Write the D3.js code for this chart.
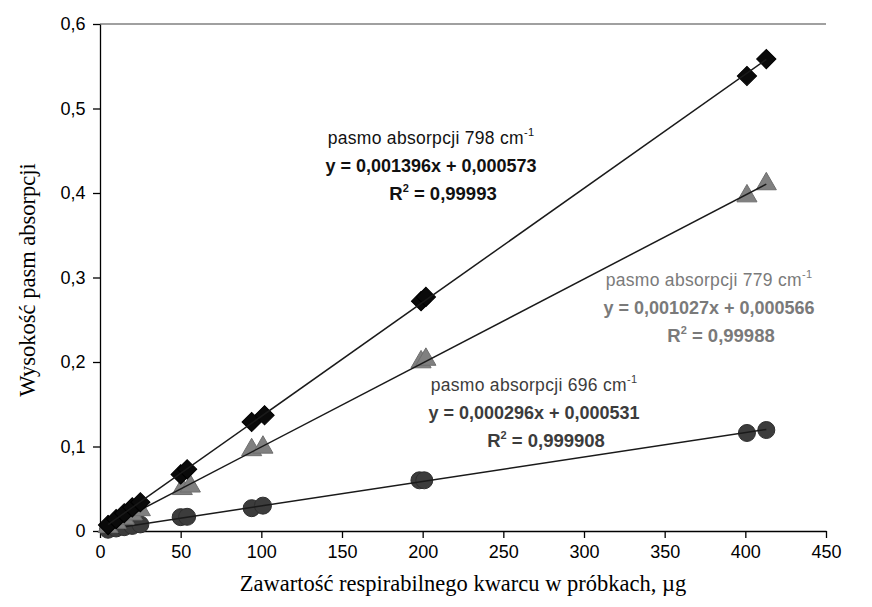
<!DOCTYPE html>
<html><head><meta charset="utf-8">
<script src="https://cdn.jsdelivr.net/npm/d3@7"></script>
<style>body{margin:0;background:#fff}</style>
</head><body>
<svg id="c" width="872" height="607"></svg>
<script>
// ---- data ----
const xTicks = [0,50,100,150,200,250,300,350,400,450];
const yTicks = [0,0.1,0.2,0.3,0.4,0.5,0.6];
const x798 = [5,10,15,20,25,50,54,94,102,199,202,401,413];
const y798 = [0.007,0.014,0.021,0.028,0.034,0.067,0.073,0.129,0.137,0.272,0.277,0.5385,0.5585];
const x779 = [5,10,15,20,25,51,56,94,101,199,202,401,413];
const y779 = [0.005,0.010,0.015,0.020,0.025,0.050,0.053,0.096,0.099,0.200,0.203,0.3964,0.4107];
const x696 = [5,10,15,20,25,50,54,94,101,198,201,401,413];
const y696 = [0.0015,0.003,0.0045,0.006,0.0078,0.0164,0.0168,0.027,0.030,0.060,0.060,0.116,0.1195];
const labels798 = ["pasmo absorpcji 798 cm","y = 0,001396x + 0,000573","R","= 0,99993"];
const labels779 = ["pasmo absorpcji 779 cm","y = 0,001027x + 0,000566","R","= 0,99988"];
const labels696 = ["pasmo absorpcji 696 cm","y = 0,000296x + 0,000531","R","= 0,999908"];
const xTitle = "Zawartość respirabilnego kwarcu w próbkach, µg";
const yTitle = "Wysokość pasm absorpcji";

// ---- chart ----
const svg = d3.select("#c");
const x = d3.scaleLinear().domain([0,450]).range([100,826]);
const y = d3.scaleLinear().domain([0,0.6]).range([531,24]);
const fmt = d => String(d).replace(".", ",");

svg.append("line").attr("x1",x(0)).attr("x2",x(450)).attr("y1",y(0.6)).attr("y2",y(0.6))
  .attr("stroke","#808080").attr("stroke-width",1.5);

const xAxis = svg.append("g").attr("transform",`translate(0,${y(0)})`)
  .call(d3.axisBottom(x).tickValues(xTicks).tickSize(7).tickSizeOuter(0).tickFormat(fmt));
const yAxis = svg.append("g").attr("transform",`translate(${x(0)},0)`)
  .call(d3.axisLeft(y).tickValues(yTicks).tickSize(7).tickSizeOuter(0).tickFormat(fmt));
[xAxis,yAxis].forEach(g=>{
  g.select(".domain").attr("stroke","#000").attr("stroke-width",1.3);
  g.selectAll(".tick line").attr("stroke","#000").attr("stroke-width",1.3);
  g.selectAll(".tick text").attr("font-family","Liberation Sans, Arial, sans-serif")
   .attr("font-size",18).attr("fill","#000");
});
xAxis.selectAll(".tick text").attr("dy","0.95em");
yAxis.selectAll(".tick text").attr("dx","-0.25em");

function regress(xs, ys){
  const mx=d3.mean(xs), my=d3.mean(ys);
  let num=0, den=0;
  xs.forEach((v,i)=>{num+=(v-mx)*(ys[i]-my); den+=(v-mx)*(v-mx);});
  const b=num/den; return {b, a:my-b*mx};
}
const series = [
  {xs:x696, ys:y696, sym:"circle", fill:"#3c3c3c", stroke:"#2e2e2e"},
  {xs:x779, ys:y779, sym:"triangle", fill:"#808080", stroke:"#6e6e6e"},
  {xs:x798, ys:y798, sym:"diamond", fill:"#0a0a0a", stroke:"#000"}
];
series.forEach(s=>{
  const g = svg.append("g");
  s.xs.forEach((v,i)=>{
    const cx=x(v), cy=y(s.ys[i]);
    if(s.sym==="circle"){
      g.append("circle").attr("cx",cx).attr("cy",cy).attr("r",8.5).attr("fill",s.fill).attr("stroke",s.stroke);
    } else if(s.sym==="triangle"){
      g.append("path").attr("d",d3.symbol(d3.symbolTriangle,175)())
        .attr("transform",`translate(${cx},${cy})`).attr("fill",s.fill).attr("stroke",s.stroke);
    } else {
      g.append("path").attr("d",d3.symbol(d3.symbolSquare,185)())
        .attr("transform",`translate(${cx},${cy}) rotate(45)`).attr("fill",s.fill).attr("stroke",s.stroke);
    }
  });
  const r = regress(s.xs, s.ys);
  const x0=d3.min(s.xs), x1=d3.max(s.xs);
  svg.append("line").attr("x1",x(x0)).attr("y1",y(r.a+r.b*x0)).attr("x2",x(x1)).attr("y2",y(r.a+r.b*x1))
    .attr("stroke","#1a1a1a").attr("stroke-width",1.5);
});

function annot(lbl, cx, y0, color){
  const g = svg.append("g").attr("fill",color).attr("font-family","Liberation Sans, Arial, sans-serif")
    .attr("text-anchor","middle");
  const t1 = g.append("text").attr("x",cx).attr("y",y0).attr("font-size",17.5).attr("letter-spacing",0.3);
  t1.append("tspan").text(lbl[0]);
  t1.append("tspan").text("-1").attr("font-size",11).attr("dy",-8);
  g.append("text").attr("x",cx).attr("y",y0+28).attr("font-size",18).attr("font-weight","bold").text(lbl[1]);
  const t3 = g.append("text").attr("x",cx+12).attr("y",y0+56).attr("font-size",18.5).attr("font-weight","bold");
  t3.append("tspan").text(lbl[2]);
  t3.append("tspan").text("2").attr("font-size",11).attr("dy",-8);
  t3.append("tspan").text(" " + lbl[3]).attr("dy",8);
}
annot(labels798, 431, 144, "#111");
annot(labels779, 709, 286, "#7a7a7a");
annot(labels696, 534, 391, "#3c3c3c");

svg.append("text").attr("x",463).attr("y",591).attr("text-anchor","middle")
  .attr("font-family","Liberation Serif, Times New Roman, serif").attr("font-size",22.5).text(xTitle);
svg.append("text").attr("transform","translate(35,280) rotate(-90)").attr("text-anchor","middle")
  .attr("font-family","Liberation Serif, Times New Roman, serif").attr("font-size",22.5).text(yTitle);
</script>
</body></html>
